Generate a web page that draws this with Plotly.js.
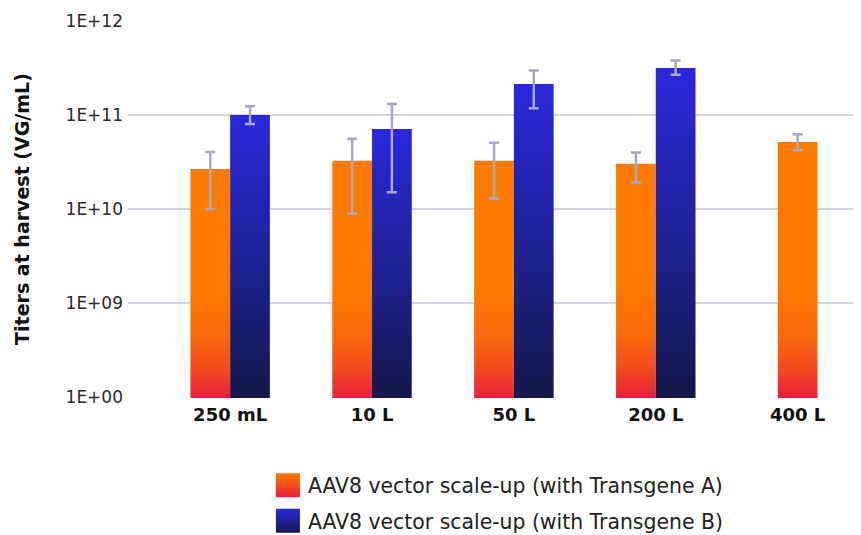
<!DOCTYPE html>
<html>
<head>
<meta charset="utf-8">
<script src="https://cdn.plot.ly/plotly-3.0.1.min.js"></script>
<style>
  html, body { margin: 0; padding: 0; background: #ffffff; }
  #chart { width: 861px; height: 535px; }
</style>
</head>
<body>
<div id="chart"></div>
<script>
// ---- Data ----
const categories = ['250 mL', '10 L', '50 L', '200 L', '400 L'];

const seriesAName = 'AAV8 vector scale-up (with Transgene A)';
const seriesACats = ['250 mL', '10 L', '50 L', '200 L'];
const seriesAValues = [2.67e10, 3.25e10, 3.25e10, 3.02e10];
const seriesAErrPlus = [1.38e10, 2.35e10, 1.83e10, 0.96e10];
const seriesAErrMinus = [1.67e10, 2.36e10, 1.96e10, 1.11e10];

const seriesA400Cats = ['400 L'];
const seriesA400Values = [5.17e10];
const seriesA400ErrPlus = [1.07e10];
const seriesA400ErrMinus = [0.95e10];

const seriesBName = 'AAV8 vector scale-up (with Transgene B)';
const seriesBCats = ['250 mL', '10 L', '50 L', '200 L'];
const seriesBValues = [1.0e11, 7.1e10, 2.13e11, 3.15e11];
const seriesBErrPlus = [0.24e11, 6.0e10, 0.85e11, 0.65e11];
const seriesBErrMinus = [0.20e11, 5.59e10, 0.95e11, 0.48e11];

const yTickVals = [1e8, 1e9, 1e10, 1e11, 1e12];
const yTickText = ['1E+00', '1E+09', '1E+10', '1E+11', '1E+12'];

// ---- Styles ----
const FONT = '"DejaVu Sans", "Noto Sans", sans-serif';
const ORANGE = '#FF7B00';
const BLUE = '#2A27DC';
const errStyle = { type: 'data', symmetric: false, color: '#A8A9BE', thickness: 2.5, width: 5 };
const BW = 0.28;

const traceA = {
  type: 'bar', name: seriesAName, x: seriesACats, y: seriesAValues,
  width: BW, offset: -BW, marker: { color: ORANGE },
  legendgroup: 'a',
  error_y: Object.assign({}, errStyle, { array: seriesAErrPlus, arrayminus: seriesAErrMinus })
};
const traceB = {
  type: 'bar', name: seriesBName, x: seriesBCats, y: seriesBValues,
  width: BW, offset: 0, marker: { color: BLUE },
  legendgroup: 'b',
  error_y: Object.assign({}, errStyle, { array: seriesBErrPlus, arrayminus: seriesBErrMinus })
};
const traceA400 = {
  type: 'bar', name: seriesAName, x: seriesA400Cats, y: seriesA400Values,
  width: BW, offset: -BW / 2, marker: { color: ORANGE },
  legendgroup: 'a', showlegend: false,
  error_y: Object.assign({}, errStyle, { array: seriesA400ErrPlus, arrayminus: seriesA400ErrMinus })
};

const layout = {
  width: 861, height: 535,
  margin: { l: 128, r: 8, t: 20, b: 137 },
  paper_bgcolor: '#ffffff', plot_bgcolor: '#ffffff',
  barmode: 'overlay',
  showlegend: true,
  font: { family: FONT, color: '#222222' },
  xaxis: {
    type: 'category', categoryorder: 'array', categoryarray: categories,
    range: [-0.72, 4.39],
    showgrid: false, zeroline: false, showline: false, ticks: '',
    ticklabelstandoff: 4,
    tickfont: { family: FONT, size: 18, color: '#111111', weight: 'bold' }
  },
  yaxis: {
    type: 'log', range: [7.99, 12.01],
    tickmode: 'array', tickvals: yTickVals, ticktext: yTickText,
    showgrid: true, gridcolor: '#D4D3DE', gridwidth: 2,
    zeroline: false, showline: false, ticks: '',
    ticklabelstandoff: 4,
    tickfont: { family: FONT, size: 17, color: '#2a2a2a' },
    title: { text: 'Titers at harvest (VG/mL)', standoff: 30,
             font: { family: FONT, size: 19, color: '#111111', weight: 'bold' } }
  },
  legend: {
    orientation: 'v', xref: 'paper', x: 0.193, xanchor: 'left',
    yref: 'container', y: 0.13, yanchor: 'top',
    traceorder: 'grouped', tracegroupgap: 6,
    font: { family: FONT, size: 20.4, color: '#222222' },
    bgcolor: 'rgba(0,0,0,0)'
  }
};

const gd = document.getElementById('chart');
const ns = 'http://www.w3.org/2000/svg';

function applyGradients() {
  const svg = gd.querySelector('svg.main-svg');
  if (!svg) return;
  let defs = svg.querySelector('defs');
  if (!defs) { defs = document.createElementNS(ns, 'defs'); svg.insertBefore(defs, svg.firstChild); }
  defs.querySelectorAll('linearGradient.rs-grad').forEach(e => e.remove());
  const bottom = gd._fullLayout.yaxis._length;

  function makeGrad(id, stops, attrs) {
    const g = document.createElementNS(ns, 'linearGradient');
    g.setAttribute('id', id);
    g.setAttribute('class', 'rs-grad');
    Object.keys(attrs).forEach(k => g.setAttribute(k, attrs[k]));
    stops.forEach(s => {
      const st = document.createElementNS(ns, 'stop');
      st.setAttribute('offset', s[0]);
      st.setAttribute('stop-color', s[1]);
      g.appendChild(st);
    });
    defs.appendChild(g);
  }
  const orangeStops = [[0, '#FF7B00'], [0.45, '#F9680B'], [0.75, '#F24A1F'], [1, '#E81E3B']];
  const blueStops = [[0, '#2A27DC'], [0.5, '#1E2296'], [1, '#141849']];
  makeGrad('gradA', orangeStops, { gradientUnits: 'userSpaceOnUse', x1: 0, x2: 0, y1: bottom - 112, y2: bottom });
  makeGrad('gradBleg', blueStops, { x1: 0, x2: 0, y1: 0, y2: 1 });
  makeGrad('gradAleg', [[0, '#FF7B00'], [1, '#E81E3B']], { x1: 0, x2: 0, y1: 0, y2: 1 });

  function isBlue(p) {
    if (p.dataset.rsColor) return p.dataset.rsColor === 'b';
    const f = (p.getAttribute('style') || '');
    const b = /42,\s*39,\s*220/.test(f) || /2a27dc/i.test(f);
    p.dataset.rsColor = b ? 'b' : 'a';
    return b;
  }

  let k = 0;
  gd.querySelectorAll('.barlayer .point path').forEach(p => {
    if (isBlue(p)) {
      const top = p.getBBox().y;
      const id = 'gradB' + (k++);
      makeGrad(id, blueStops, { gradientUnits: 'userSpaceOnUse', x1: 0, x2: 0, y1: top, y2: bottom });
      p.style.fill = 'url(#' + id + ')';
    } else {
      p.style.fill = 'url(#gradA)';
    }
  });

  gd.querySelectorAll('.legend .traces').forEach(it => {
    it.querySelectorAll('.legendpoints path').forEach(p => {
      const blue = isBlue(p);
      p.setAttribute('d', 'M12,12H-12V-12H12Z');
      p.style.fill = blue ? 'url(#gradBleg)' : 'url(#gradAleg)';
      p.style.stroke = 'none';
    });
  });
}

Plotly.newPlot(gd, [traceA, traceB, traceA400], layout, { staticPlot: true, displayModeBar: false })
  .then(() => {
    applyGradients();
    gd.on('plotly_afterplot', applyGradients);
  });
</script>
</body>
</html>
